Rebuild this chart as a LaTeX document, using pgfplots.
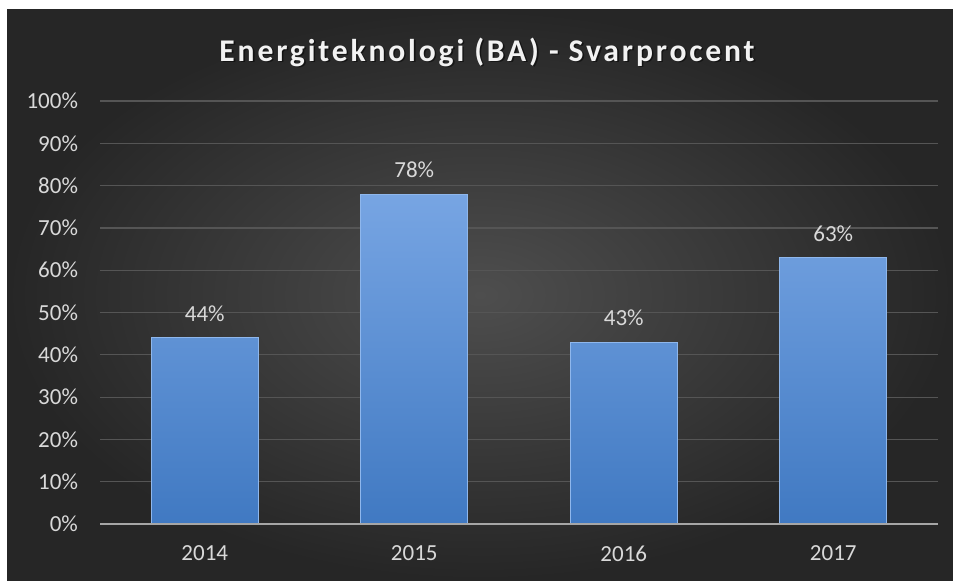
\documentclass[border=0pt]{standalone}
\usepackage{pgfplots}
\pgfplotsset{compat=1.18}
\usepackage{fontspec}
\setmainfont{Carlito}
\definecolor{bgin}{HTML}{4E4E4E}
\definecolor{bgout}{HTML}{262626}
\definecolor{bartop}{HTML}{77A5E3}
\definecolor{barbot}{HTML}{4079C2}
\definecolor{baredge}{HTML}{8FB7EC}
\definecolor{txt}{HTML}{D9D9D9}
\definecolor{gridc}{HTML}{555555}
\definecolor{axc}{HTML}{A6A6A6}
\begin{document}
\begin{tikzpicture}
\fill[white] (0pt,0pt) rectangle (476.5pt,290pt);
\shade[inner color=bgin, outer color=bgout] (3.5pt,0pt) rectangle (476.5pt,285pt);
\node[text=black, opacity=0.5, font=\fontsize{15.8}{18}\selectfont\bfseries\addfontfeatures{LetterSpace=9}] at (244.3pt,263.2pt) {Energiteknologi (BA) - Svarprocent};
\node[text=white!95!black, font=\fontsize{15.8}{18}\selectfont\bfseries\addfontfeatures{LetterSpace=9}] at (243.5pt,264pt) {Energiteknologi (BA) - Svarprocent};
\begin{axis}[
  at={(50pt,28pt)}, anchor=south west,
  scale only axis, width=419pt, height=211.5pt,
  xmin=-0.5, xmax=3.5, ymin=0, ymax=100,
  xtick={0,1,2,3}, xticklabels={2014,2015,2016,2017},
  ytick={0,10,...,100},
  yticklabel={\pgfmathprintnumber{\tick}\%},
  /pgf/number format/assume math mode=true,
  tick label style={text=txt, font=\fontsize{11.5}{13}\selectfont},
  xticklabel style={yshift=-7.5pt},
  yticklabel style={xshift=-7.5pt},
  xticklabel pos=bottom, yticklabel pos=left,
  major tick length=0pt,
  ymajorgrids, grid style={gridc, line width=0.6pt},
  axis line style={draw=none},
  ybar, bar width=53.5pt,
  nodes near coords={\pgfmathprintnumber{\pgfplotspointmeta}\%},
  every node near coord/.append style={text=txt, font=\fontsize{11.5}{13}\selectfont, yshift=4.5pt},
  clip=false,
]
\addplot[draw=baredge, line width=0.5pt, top color=bartop, bottom color=barbot] coordinates {(0,44) (1,78) (2,43) (3,63)};
\draw[axc, line width=1pt] (axis cs:-0.5,0) -- (axis cs:3.5,0);
\end{axis}
\end{tikzpicture}
\end{document}
